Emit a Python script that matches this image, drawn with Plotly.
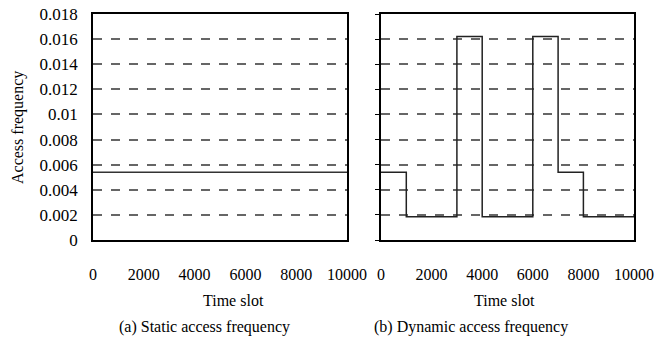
import plotly.graph_objects as go

# Data
static_x = [0, 10000]
static_y = [0.0054, 0.0054]
dyn_x = [0, 1000, 3000, 4000, 6000, 7000, 8000, 10000]
dyn_y = [0.0054, 0.00185, 0.0162, 0.00185, 0.0162, 0.0054, 0.00185, 0.00185]
x_ticks = [0, 2000, 4000, 6000, 8000, 10000]
y_ticks = [0, 0.002, 0.004, 0.006, 0.008, 0.01, 0.012, 0.014, 0.016, 0.018]
y_tick_text = ["0", "0.002", "0.004", "0.006", "0.008", "0.01", "0.012", "0.014", "0.016", "0.018"]

W, H = 657, 341
FONT = "Liberation Serif, Times New Roman, DejaVu Serif, serif"

fig = go.Figure()
fig.add_trace(go.Scatter(x=static_x, y=static_y, mode="lines", line=dict(color="#333333", width=1.5, shape="hv"),
                         xaxis="x", yaxis="y", showlegend=False))
fig.add_trace(go.Scatter(x=dyn_x, y=dyn_y, mode="lines", line=dict(color="#222222", width=1.5, shape="hv"),
                         xaxis="x2", yaxis="y2", showlegend=False))

ytop, ybot = 1 - 14 / H, 1 - 240 / H
xaxis_common = dict(range=[0, 10000], tickvals=x_ticks, ticktext=[str(v) for v in x_ticks],
                    showgrid=False, zeroline=False, showline=True, mirror=True, linecolor="black", linewidth=1.5,
                    ticks="", ticklabelstandoff=19, automargin=False,
                    tickfont=dict(family=FONT, size=16, color="black"))
yaxis_common = dict(range=[0, 0.018], tickvals=y_ticks, showgrid=True, gridcolor="#666666", griddash="dash",
                    gridwidth=1.5, zeroline=False, showline=True, mirror=True, linecolor="black", linewidth=1.5,
                    domain=[ybot, ytop], automargin=False, tickfont=dict(family=FONT, size=17, color="black"))

def ann(text, x, y, size=16, angle=0, xanchor="center"):
    return dict(text=text, x=x / W, y=1 - y / H, xref="paper", yref="paper", xanchor=xanchor, yanchor="middle",
                textangle=angle, showarrow=False, font=dict(family=FONT, size=size, color="black"))

fig.update_layout(
    width=W, height=H, margin=dict(l=0, r=0, t=0, b=0, pad=0),
    paper_bgcolor="white", plot_bgcolor="white",
    xaxis=dict(domain=[93 / W, 347 / W], anchor="y", **xaxis_common),
    yaxis=dict(anchor="x", ticktext=y_tick_text, ticks="", ticklabelstandoff=10, **yaxis_common),
    xaxis2=dict(domain=[381 / W, 634 / W], anchor="y2", **xaxis_common),
    yaxis2=dict(anchor="x2", showticklabels=False, ticks="outside", ticklen=4, tickcolor="black", **yaxis_common),
    annotations=[
        ann("Access frequency", 18, 128, 16, -90),
        ann("Time slot", 201, 300, 16, xanchor="left"),
        ann("Time slot", 472, 300, 16, xanchor="left"),
        ann("(a) Static access frequency", 117, 327, 16, xanchor="left"),
        ann("(b) Dynamic access frequency", 372, 327, 16, xanchor="left"),
    ],
)

fig.write_html("out.html", config={"displayModeBar": False},
               post_script="document.body.style.margin='0';document.body.style.overflow='hidden';")
